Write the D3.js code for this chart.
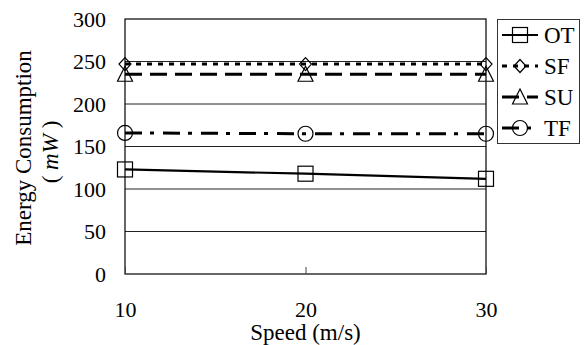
<!DOCTYPE html>
<html>
<head>
<meta charset="utf-8">
<script src="https://cdn.jsdelivr.net/npm/d3@7"></script>
<style>
  body { margin: 0; background: #fff; }
</style>
</head>
<body>
<div id="chart"></div>
<script>
// data
var speeds = [10, 20, 30];
var seriesNames = ["OT", "SF", "SU", "TF"];
var otValues = [123, 118, 112];
var sfValues = [247, 247, 247];
var suValues = [235, 235, 235];
var tfValues = [166, 165, 165];
var yTicks = [0, 50, 100, 150, 200, 250, 300];

var serif = "'Liberation Serif'";

var svgWidth = 584;
var svgHeight = 345;

var margin = { top: 19, right: 98, bottom: 71, left: 125 };
var width = svgWidth - margin.left - margin.right;
var height = svgHeight - margin.top - margin.bottom;

var svg = d3.select("#chart")
  .append("svg")
  .attr("width", svgWidth)
  .attr("height", svgHeight);

var chartGroup = svg.append("g")
  .attr("transform", `translate(${margin.left}, ${margin.top})`);

// scales
var xScale = d3.scaleLinear().domain([10, 30]).range([0, width]);
var yScale = d3.scaleLinear().domain([0, 300]).range([height, 0]);

// styles per series
var styles = {
  OT: { values: otValues, dash: null, width: 2.2, marker: "square" },
  SF: { values: sfValues, dash: "5,6", width: 3, marker: "diamond" },
  SU: { values: suValues, dash: "17,8", width: 3, marker: "triangle" },
  TF: { values: tfValues, dash: "17,8,4,9", width: 3, marker: "circle" }
};

// gridlines
chartGroup.selectAll(".grid")
  .data(yTicks.slice(1, -1))
  .enter()
  .append("line")
  .attr("x1", 0)
  .attr("x2", width)
  .attr("y1", d => yScale(d))
  .attr("y2", d => yScale(d))
  .attr("stroke", "#222")
  .attr("stroke-width", 1);

// frame
chartGroup.append("rect")
  .attr("width", width)
  .attr("height", height)
  .attr("fill", "none")
  .attr("stroke", "#000")
  .attr("stroke-width", 1.2);

// axes
var xAxis = d3.axisBottom(xScale)
  .tickValues(speeds)
  .tickSizeInner(-7)
  .tickSizeOuter(0)
  .tickPadding(27)
  .tickFormat(d3.format("d"));

var yAxis = d3.axisLeft(yScale)
  .tickValues(yTicks)
  .tickSizeInner(0)
  .tickSizeOuter(0)
  .tickPadding(19);

var xg = chartGroup.append("g")
  .attr("transform", `translate(0, ${height})`)
  .call(xAxis);
var yg = chartGroup.append("g").call(yAxis);

[xg, yg].forEach(function(g) {
  g.select(".domain").remove();
  g.selectAll("text")
    .style("font-family", serif)
    .style("font-size", "22px")
    .attr("fill", "#000");
  g.selectAll("line").attr("stroke", "#444");
});

// marker drawing
function drawMarker(g, type, cx, cy) {
  if (type === "square") {
    g.append("rect")
      .attr("x", cx - 7.5).attr("y", cy - 7.5)
      .attr("width", 15).attr("height", 15)
      .attr("fill", "none").attr("stroke", "#000").attr("stroke-width", 1.2);
  } else if (type === "diamond") {
    g.append("path")
      .attr("d", `M${cx},${cy - 6.5}L${cx + 6},${cy}L${cx},${cy + 6.5}L${cx - 6},${cy}Z`)
      .attr("fill", "none").attr("stroke", "#000").attr("stroke-width", 1.2);
  } else if (type === "triangle") {
    g.append("path")
      .attr("d", `M${cx},${cy - 8}L${cx + 7.5},${cy + 7}L${cx - 7.5},${cy + 7}Z`)
      .attr("fill", "none").attr("stroke", "#000").attr("stroke-width", 1.2);
  } else {
    g.append("circle")
      .attr("cx", cx).attr("cy", cy).attr("r", 7.5)
      .attr("fill", "none").attr("stroke", "#000").attr("stroke-width", 1.2);
  }
}

var line = d3.line()
  .x((d, i) => xScale(speeds[i]))
  .y(d => yScale(d));

// series
seriesNames.forEach(function(name) {
  var s = styles[name];
  chartGroup.append("path")
    .datum(s.values)
    .attr("d", line)
    .attr("fill", "none")
    .attr("stroke", "#000")
    .attr("stroke-width", s.width)
    .attr("stroke-dasharray", s.dash);
  s.values.forEach(function(v, i) {
    drawMarker(chartGroup, s.marker, xScale(speeds[i]), yScale(v));
  });
});

// axis labels
svg.append("text")
  .attr("transform", `translate(31, 148) rotate(-90)`)
  .attr("text-anchor", "middle")
  .style("font-family", serif)
  .style("font-size", "23px")
  .text("Energy Consumption");

var unit = svg.append("text")
  .attr("transform", `translate(58, 152) rotate(-90)`)
  .attr("text-anchor", "middle")
  .style("font-family", serif)
  .style("font-size", "23px");
unit.append("tspan").text("( ");
unit.append("tspan").style("font-style", "italic").text("mW");
unit.append("tspan").text(" )");

svg.append("text")
  .attr("x", margin.left + width / 2)
  .attr("y", 340)
  .attr("text-anchor", "middle")
  .style("font-family", serif)
  .style("font-size", "23px")
  .text("Speed (m/s)");

// legend
var legend = svg.append("g");
legend.append("rect")
  .attr("x", 497.5).attr("y", 19.5)
  .attr("width", 82).attr("height", 124)
  .attr("fill", "#fff")
  .attr("stroke", "#333")
  .attr("stroke-width", 1);

seriesNames.forEach(function(name, i) {
  var s = styles[name];
  var cy = 35 + i * 31;
  legend.append("line")
    .attr("x1", 502).attr("x2", 538)
    .attr("y1", cy).attr("y2", cy)
    .attr("stroke", "#000")
    .attr("stroke-width", s.width)
    .attr("stroke-dasharray", s.dash);
  drawMarker(legend, s.marker, 520, cy);
  legend.append("text")
    .attr("x", 544)
    .attr("y", cy + 8)
    .style("font-family", serif)
    .style("font-size", "23px")
    .text(name);
});
</script>
</body>
</html>
